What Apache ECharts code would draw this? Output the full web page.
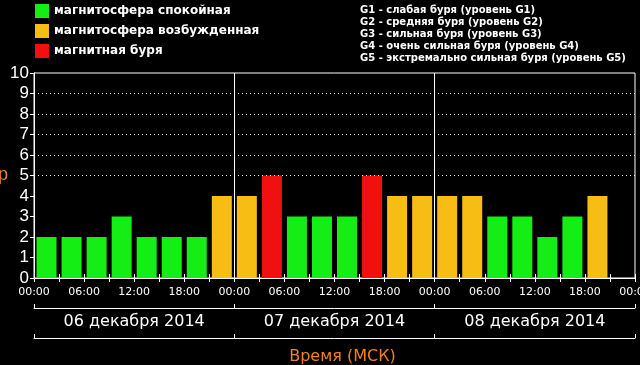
<!DOCTYPE html>
<html>
<head>
<meta charset="utf-8">
<script src="https://cdn.jsdelivr.net/npm/echarts@6/dist/echarts.min.js"></script>
<style>
html,body{margin:0;padding:0;background:#000;}
#c{width:640px;height:365px;}
</style>
</head>
<body>
<div id="c"></div>
<script>
// Kp index per 3-hour interval, 06-08 Dec 2014 (last slot empty)
var kpValues = [2,2,2,3,2,2,2,4, 4,5,3,3,3,5,4,4, 4,4,3,3,2,3,4];
var days = ['06 декабря 2014', '07 декабря 2014', '08 декабря 2014'];
var yTicks = [0,1,2,3,4,5,6,7,8,9,10];
var legendNames = ['магнитосфера спокойная', 'магнитосфера возбужденная', 'магнитная буря'];
var stormLevels = [
  'G1 - слабая буря (уровень G1)',
  'G2 - средняя буря (уровень G2)',
  'G3 - сильная буря (уровень G3)',
  'G4 - очень сильная буря (уровень G4)',
  'G5 - экстремально сильная буря (уровень G5)'
];
var gridLevels = [5,6,7,8,9];
var daySeparators = [24, 48];
var colors = ['#14ee14', '#f8bd14', '#f01010'];
var orange = '#f0821e';

function cls(v){ return v >= 5 ? 2 : (v >= 4 ? 1 : 0); }
function seriesData(k){
  return kpValues.map(function(v,i){
    return cls(v) === k ? [i*3 + 1.5, v] : [i*3 + 1.5, '-'];
  });
}
function pad(n){ return (n<10?'0':'')+n; }

var font = 'DejaVu Sans';
var series = legendNames.map(function(name, k){
  var s = {
    name: name, type: 'bar', xAxisIndex: 0, yAxisIndex: 0,
    data: seriesData(k), barWidth: 20, barGap: '-100%',
    itemStyle: {color: colors[k]}, z: 3
  };
  if (k === 0) {
    s.markLine = {
      silent: true, symbol: ['none','none'], label: {show:false},
      data: gridLevels.map(function(y){ return {yAxis: y, lineStyle:{color:'#fff', type:[1,3], width:1}}; })
        .concat(daySeparators.map(function(x){ return {xAxis: x, lineStyle:{color:'#fff', type:'solid', width:1}}; }))
    };
  }
  return s;
});

var chart = echarts.init(document.getElementById('c'), null, {renderer:'canvas'});
chart.setOption({
  animation: false,
  backgroundColor: '#000',
  textStyle: {fontFamily: font},
  legend: {
    orient: 'vertical', left: 35, top: 4, itemWidth: 14, itemHeight: 14, itemGap: 6,
    icon: 'rect', padding: 0, selectedMode: false,
    textStyle: {color: '#fff', fontSize: 12, fontFamily: font, fontWeight: 'bold'},
    data: legendNames
  },
  graphic: [{
    type: 'text', left: 360, top: 4,
    style: {text: stormLevels.join('\n'), fill: '#fff', font: 'bold 10px "DejaVu Sans"', lineHeight: 12}
  }],
  grid: {left: 34, right: 5, top: 73, bottom: 87, show: true, borderColor: '#fff', borderWidth: 1,
    containLabel: false, outerBoundsMode: 'none'},
  xAxis: [
    {
      type: 'value', min: 0, max: 72, interval: 3, position: 'bottom',
      axisLine: {show: true, lineStyle: {color: '#fff'}},
      axisTick: {show: true, inside: true, length: 4, lineStyle: {color: '#fff'}},
      splitLine: {show: false},
      axisLabel: {color: '#fff', fontSize: 11, margin: 9, fontFamily: font, hideOverlap: false,
        formatter: function(v){ return v % 6 === 0 ? pad(v % 24) + ':00' : ''; }}
    },
    {
      type: 'value', min: 0, max: 72, interval: 3, position: 'top',
      axisLine: {show: true, lineStyle: {color: '#fff'}},
      axisTick: {show: true, inside: true, length: 4, lineStyle: {color: '#fff'}},
      splitLine: {show: false}, axisLabel: {show: false}
    },
    {
      type: 'category', data: days, position: 'bottom', offset: 30, boundaryGap: true,
      axisLine: {show: true, lineStyle: {color: '#fff'}},
      axisTick: {show: true, inside: true, length: 4, interval: 0, lineStyle: {color: '#fff'}},
      axisLabel: {color: '#fff', fontSize: 16, margin: 6, fontFamily: font}
    },
    {
      type: 'category', data: days, position: 'bottom', offset: 60, boundaryGap: true,
      axisLine: {show: true, lineStyle: {color: '#fff'}},
      axisTick: {show: true, inside: true, length: 4, interval: 0, lineStyle: {color: '#fff'}},
      axisLabel: {show: false},
      name: 'Время (МСК)', nameLocation: 'middle', nameGap: 11,
      nameTextStyle: {color: orange, fontSize: 16, fontFamily: font, padding: [0,0,0,16]}
    }
  ],
  yAxis: [
    {
      type: 'value', min: 0, max: 10, interval: 1, position: 'left',
      axisLine: {show: true, lineStyle: {color: '#fff'}},
      axisTick: {show: true, length: 3, lineStyle: {color: '#fff'}},
      splitLine: {show: false},
      axisLabel: {color: '#fff', fontSize: 17, margin: 5, fontFamily: 'Liberation Sans',
        formatter: function(v){ return yTicks.indexOf(v) >= 0 ? String(v) : ''; }},
      name: 'Kp', nameLocation: 'middle', nameRotate: 0, nameGap: 26, nameMoveOverlap: false,
      nameTextStyle: {color: orange, fontSize: 18, fontFamily: 'Liberation Sans'}
    },
    {
      type: 'value', min: 0, max: 10, interval: 1, position: 'right',
      axisLine: {show: true, lineStyle: {color: '#fff'}},
      axisTick: {show: true, inside: true, length: 4, lineStyle: {color: '#fff'}},
      splitLine: {show: false}, axisLabel: {show: false}
    }
  ],
  series: series
});
</script>
</body>
</html>
